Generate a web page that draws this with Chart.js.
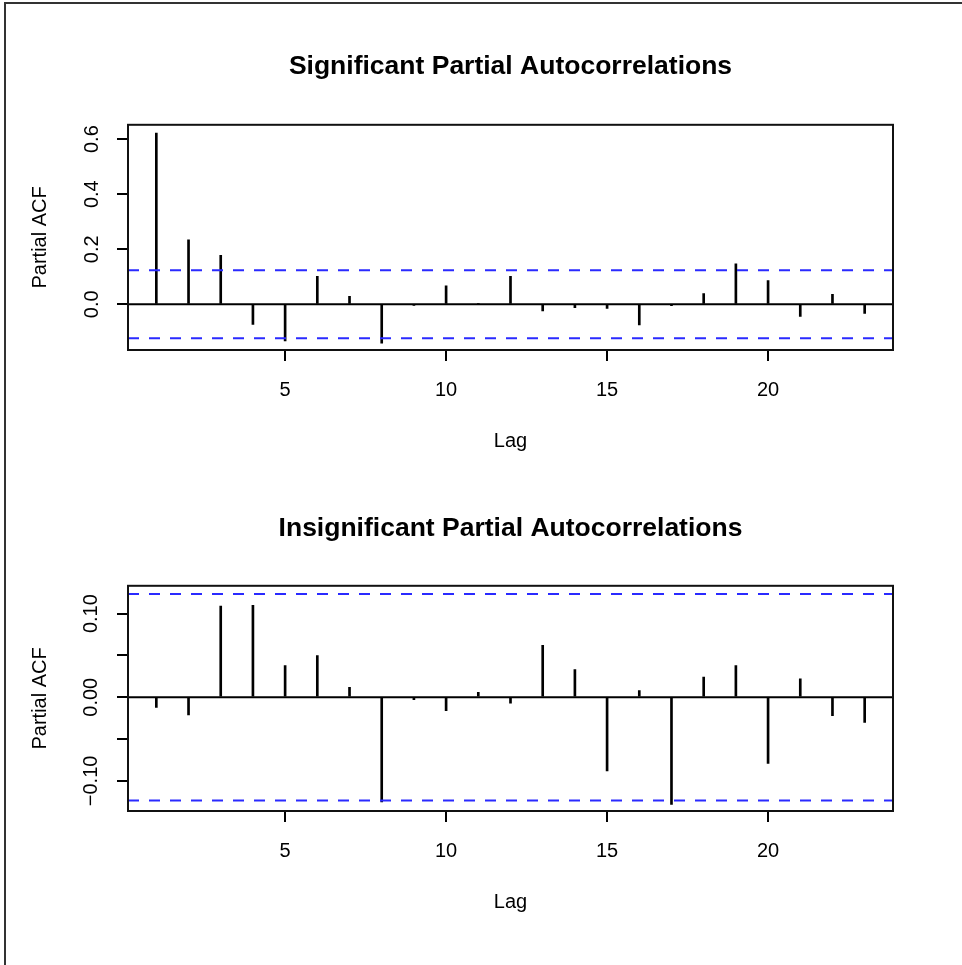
<!DOCTYPE html>
<html>
<head>
<meta charset="utf-8">
<script src="https://cdn.jsdelivr.net/npm/chart.js@4/dist/chart.umd.min.js"></script>
<style>
html, body { margin: 0; padding: 0; background: #fff; }
body { width: 962px; height: 965px; position: relative; overflow: hidden; }
#frame { position: absolute; left: 4px; top: 2px; width: 1000px; height: 1000px;
         border-top: 2px solid #333; border-left: 2px solid #333; }
canvas { position: absolute; left: 0; }
</style>
</head>
<body>
<div id="frame"></div>
<canvas id="c1" style="top:0px" width="962" height="482"></canvas>
<canvas id="c2" style="top:482px" width="962" height="483"></canvas>
<script>
// ---- data ----
const lags = [1,2,3,4,5,6,7,8,9,10,11,12,13,14,15,16,17,18,19,20,21,22,23];
const sigPacf = [0.622, 0.234, 0.178, -0.073, -0.133, 0.102, 0.029, -0.141, -0.004, 0.067, 0.003, 0.102,
                 -0.024, -0.012, -0.015, -0.075, -0.005, 0.039, 0.147, 0.086, -0.044, 0.036, -0.033];
const insigPacf = [-0.012, -0.021, 0.109, 0.110, 0.038, 0.050, 0.012, -0.125, -0.003, -0.016, 0.006, -0.007,
                   0.062, 0.033, -0.088, 0.008, -0.128, 0.024, 0.038, -0.079, 0.022, -0.022, -0.030];
const ciBound = 0.1235;
const xTicks = [5, 10, 15, 20];
const sigYTicks = [0, 0.2, 0.4, 0.6];
const sigYLabels = ['0.0', '0.2', '0.4', '0.6'];
const insigYTicks = [-0.10, -0.05, 0, 0.05, 0.10];
const insigYLabels = ['\u22120.10', '', '0.00', '', '0.10'];
const titles = ['Significant Partial Autocorrelations', 'Insignificant Partial Autocorrelations'];
const xTitle = 'Lag';
const yTitle = 'Partial ACF';

// ---- drawing ----
const FONT = "'Liberation Sans', Arial, Helvetica, sans-serif";
Chart.defaults.color = '#000';
Chart.defaults.font.family = FONT;

const boxPlugin = {
  id: 'box',
  afterDatasetsDraw(chart) {
    const { ctx, chartArea: a } = chart;
    ctx.save();
    ctx.strokeStyle = '#111';
    ctx.lineWidth = 2;
    ctx.strokeRect(a.left, a.top, a.right - a.left, a.bottom - a.top);
    ctx.restore();
  }
};

function makeChart(id, values, cfg) {
  const xMin = 0.12, xMax = 23.88;
  const hline = (y) => [{ x: xMin, y: y }, { x: xMax, y: y }];
  const tickFont = { family: FONT, size: 20 };
  new Chart(document.getElementById(id), {
    type: 'bar',
    data: {
      datasets: [
        { type: 'bar', data: lags.map((l, i) => ({ x: l, y: values[i] })),
          backgroundColor: '#000', barThickness: 2, order: 4 },
        { type: 'line', data: hline(0), borderColor: '#000', borderWidth: 2, pointRadius: 0, order: 3 },
        { type: 'line', data: hline(ciBound), borderColor: '#2a2aff', borderWidth: 2,
          borderDash: [11, 10], pointRadius: 0, order: 2 },
        { type: 'line', data: hline(-ciBound), borderColor: '#2a2aff', borderWidth: 2,
          borderDash: [11, 10], pointRadius: 0, order: 1 }
      ]
    },
    options: {
      responsive: false,
      animation: false,
      events: [],
      layout: { padding: { left: 0, right: 69, top: 0, bottom: 0 } },
      plugins: {
        legend: { display: false },
        tooltip: { enabled: false },
        title: {
          display: true, fullSize: false, text: cfg.title, color: '#000',
          font: { family: FONT, size: 26.5, weight: 'bold' },
          padding: { top: cfg.titleTop, bottom: cfg.titleBottom }
        }
      },
      scales: {
        x: {
          type: 'linear', min: xMin, max: xMax, offset: false,
          afterBuildTicks: (s) => { s.ticks = xTicks.map(v => ({ value: v })); },
          afterFit: (s) => { s.height = cfg.xHeight; },
          grid: { display: true, drawOnChartArea: false, drawTicks: true, tickLength: 11,
                  color: '#000', lineWidth: 2, offset: false },
          border: { display: false },
          ticks: { autoSkip: false, maxRotation: 0, minRotation: 0, padding: 17,
                   color: '#000', font: tickFont, callback: (v) => String(v) },
          title: { display: true, text: xTitle, color: '#000', font: tickFont,
                   padding: { top: 0, bottom: cfg.xTitleBottom } }
        },
        y: {
          type: 'linear', min: cfg.yMin, max: cfg.yMax,
          afterBuildTicks: (s) => { s.ticks = cfg.yTicks.map(v => ({ value: v })); },
          afterFit: (s) => { s.width = 128; },
          grid: { display: true, drawOnChartArea: false, drawTicks: true, tickLength: 11,
                  color: '#000', lineWidth: 2 },
          border: { display: false },
          ticks: { autoSkip: false, minRotation: 90, maxRotation: 90, crossAlign: 'center',
                   padding: cfg.yTickPad, color: '#000', font: tickFont,
                   callback: (v, i) => cfg.yLabels[i] },
          title: { display: true, text: yTitle, color: '#000', font: tickFont,
                   padding: { top: 28, bottom: 0 } }
        }
      }
    },
    plugins: [boxPlugin]
  });
}

makeChart('c1', sigPacf, {
  title: titles[0], titleTop: 51, titleBottom: 42,
  xHeight: 132, xTitleBottom: 29,
  yMin: -0.166, yMax: 0.652, yTicks: sigYTicks, yLabels: sigYLabels, yTickPad: 11
});
makeChart('c2', insigPacf, {
  title: titles[1], titleTop: 31, titleBottom: 41,
  xHeight: 154, xTitleBottom: 51,
  yMin: -0.136, yMax: 0.1333, yTicks: insigYTicks, yLabels: insigYLabels, yTickPad: 0
});
</script>
</body>
</html>
